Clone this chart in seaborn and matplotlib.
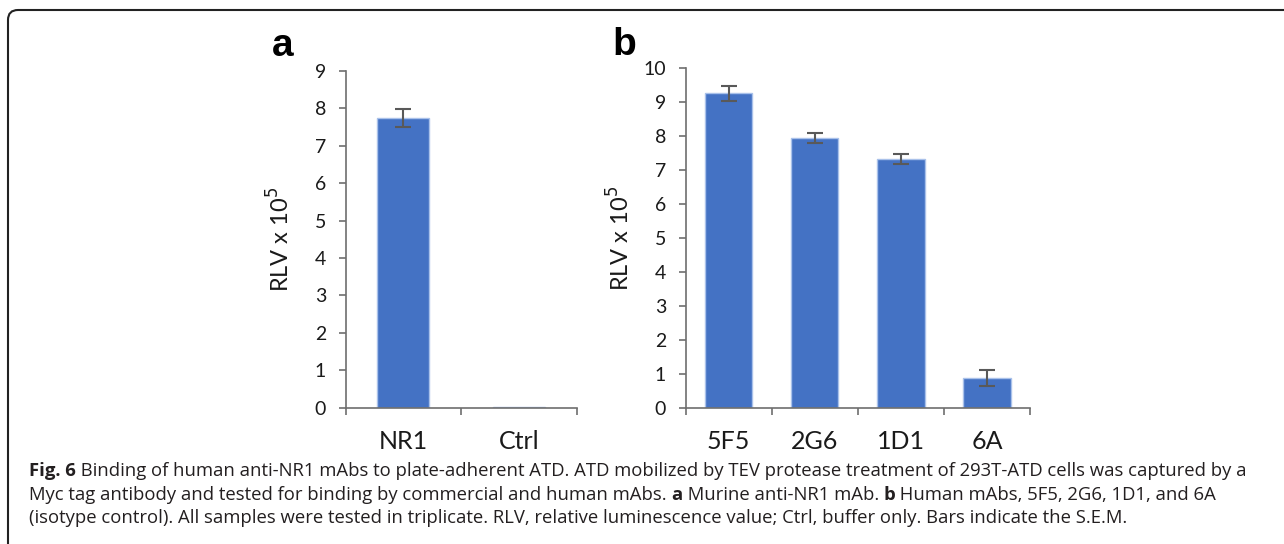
import matplotlib
matplotlib.use("Agg")
import matplotlib.pyplot as plt
import seaborn as sns
import pandas as pd
import numpy as np
from matplotlib.path import Path
from matplotlib.patches import PathPatch

# ---- data ----
cats_a = ["NR1", "Ctrl"]
vals_a = [7.75, 0.02]
err_a = [0.24, 0.0]

cats_b = ["5F5", "2G6", "1D1", "6A"]
vals_b = [9.26, 7.95, 7.33, 0.88]
err_b = [0.22, 0.14, 0.15, 0.24]

yticks_a = list(range(0, 10))
yticks_b = list(range(0, 11))

sns.set_theme(style="white")
plt.rcParams['font.family'] = ['Open Sans', 'DejaVu Sans']

BAR = "#4472C4"
EDGE = "#A9C1EA"
SPINE = "#6e6e6e"
TXT = "#1a1a1a"
CHART_FONT = ['Lato', 'DejaVu Sans']

fig = plt.figure(figsize=(12.84, 5.44), dpi=100)

def panel(rect, cats, vals, errs, yticks, width):
    ax = fig.add_axes(rect)
    df = pd.DataFrame({"cat": cats, "val": vals})
    sns.barplot(data=df, x="cat", y="val", order=cats, color=BAR, width=width,
                errorbar=None, edgecolor=EDGE, linewidth=1.0, saturation=1, ax=ax)
    xs = np.arange(len(cats))
    for x, v, e in zip(xs, vals, errs):
        if e > 0:
            ax.errorbar(x, v, yerr=e, fmt="none", ecolor="#595959", elinewidth=1.5,
                        capsize=6, capthick=1.5)
    ax.set_xlim(-0.5, len(cats) - 0.5)
    ax.set_ylim(yticks[0], yticks[-1])
    ax.set_yticks(yticks)
    ax.set_yticklabels([str(t) for t in yticks], fontsize=14, color=TXT, family=CHART_FONT)
    ax.set_xticks(xs)
    ax.set_xticklabels(cats, fontsize=18, color=TXT, family=CHART_FONT)
    ax.set_xticks(np.arange(len(cats) + 1) - 0.5, minor=True)
    ax.tick_params(axis="x", which="major", length=0, pad=16)
    ax.tick_params(axis="x", which="minor", length=5, width=1.2, color=SPINE, direction="out", bottom=True)
    ax.tick_params(axis="y", which="major", length=5, width=1.2, color=SPINE, direction="out", left=True, pad=9)
    for s in ["top", "right"]:
        ax.spines[s].set_visible(False)
    for s in ["left", "bottom"]:
        ax.spines[s].set_color(SPINE)
        ax.spines[s].set_linewidth(1.2)
    ax.set_xlabel("")
    ax.set_ylabel(r"RLV x 10$^{5}$", fontsize=17, color=TXT, family=CHART_FONT)
    return ax

ax_a = panel([0.2692, 0.2506, 0.1799, 0.6189], cats_a, vals_a, err_a, yticks_a, 0.45)
ax_b = panel([0.5340, 0.2506, 0.2682, 0.6238], cats_b, vals_b, err_b, yticks_b, 0.55)
ax_a.yaxis.set_label_coords(-0.225, 0.5)
ax_b.yaxis.set_label_coords(-0.152, 0.5)

fig.text(283 / 1284, 1 - 46 / 544, "a", fontsize=28, fontweight="bold",
         family=['Liberation Sans', 'DejaVu Sans'], ha="center", va="center", color="black")
fig.text(624 / 1284, 1 - 45 / 544, "b", fontsize=28, fontweight="bold",
         family=['Liberation Sans', 'DejaVu Sans'], ha="center", va="center", color="black")

# border line (rounded top-left corner)
W, H = 1284, 544
r = 10
verts = [(8, H), (8, 10 + r), (8, 10), (8 + r, 10), (W, 10)]
codes = [Path.MOVETO, Path.LINETO, Path.CURVE3, Path.CURVE3, Path.LINETO]
verts = [(x / W, 1 - y / H) for x, y in verts]
fig.patches.append(PathPatch(Path(verts, codes), transform=fig.transFigure,
                             fill=False, edgecolor="#222222", linewidth=1.5))

# caption
cap_fs = 13.3
CAP = "#231f20"
cap_x = 29

def write_line(y_px, parts):
    xc = cap_x
    for s, w in parts:
        tt = fig.text(xc / W, 1 - y_px / H, s, fontsize=cap_fs, fontweight=w,
                      va="baseline", ha="left", color=CAP)
        fig.canvas.draw()
        xc = tt.get_window_extent().x1

write_line(476, [("Fig. 6", "bold"),
                 (" Binding of human anti-NR1 mAbs to plate-adherent ATD. ATD mobilized by TEV protease treatment of 293T-ATD cells was captured by a", "normal")])
write_line(499.5, [("Myc tag antibody and tested for binding by commercial and human mAbs. ", "normal"),
                   ("a", "bold"), (" Murine anti-NR1 mAb. ", "normal"), ("b", "bold"),
                   (" Human mAbs, 5F5, 2G6, 1D1, and 6A", "normal")])
write_line(523, [("(isotype control). All samples were tested in triplicate. RLV, relative luminescence value; Ctrl, buffer only. Bars indicate the S.E.M.", "normal")])

fig.savefig("out.png", dpi=100)
